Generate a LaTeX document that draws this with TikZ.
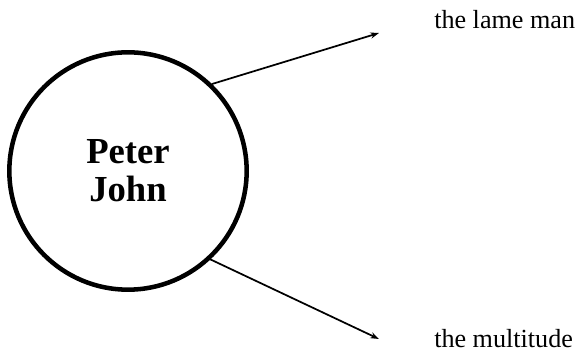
\documentclass[tikz,border=0pt]{standalone}
\usepackage{fontspec}
\setmainfont{Liberation Serif}
\usetikzlibrary{arrows.meta}

\begin{document}
\begin{tikzpicture}[x=0.75pt,y=-0.75pt,line cap=round,line join=round,
  ray/.style={-{Stealth[length=6.5pt,width=4.6pt]},black,line width=1.3pt},
  who/.style={font=\fontsize{19.6pt}{23pt}\selectfont,inner sep=0pt,anchor=base west}]
\useasboundingbox (0,0) rectangle (577,352);
% the healers
\node[circle,draw=black,line width=3.4pt,minimum size=178pt,inner sep=0pt,align=center,
  font=\fontsize{27.5pt}{28.5pt}\selectfont\bfseries] (apostles) at (128,171) {Peter\\John};
% those reached
\node[who] (lame) at (434,29) {the lame man};
\node[who] (crowd) at (434,347) {the multitude};
\coordinate (lametip) at (379,33);
\coordinate (crowdtip) at (379,339);
\draw[ray] (apostles.46.7) -- (lametip);
\draw[ray] (apostles.-47) -- (crowdtip);
\end{tikzpicture}
\end{document}
